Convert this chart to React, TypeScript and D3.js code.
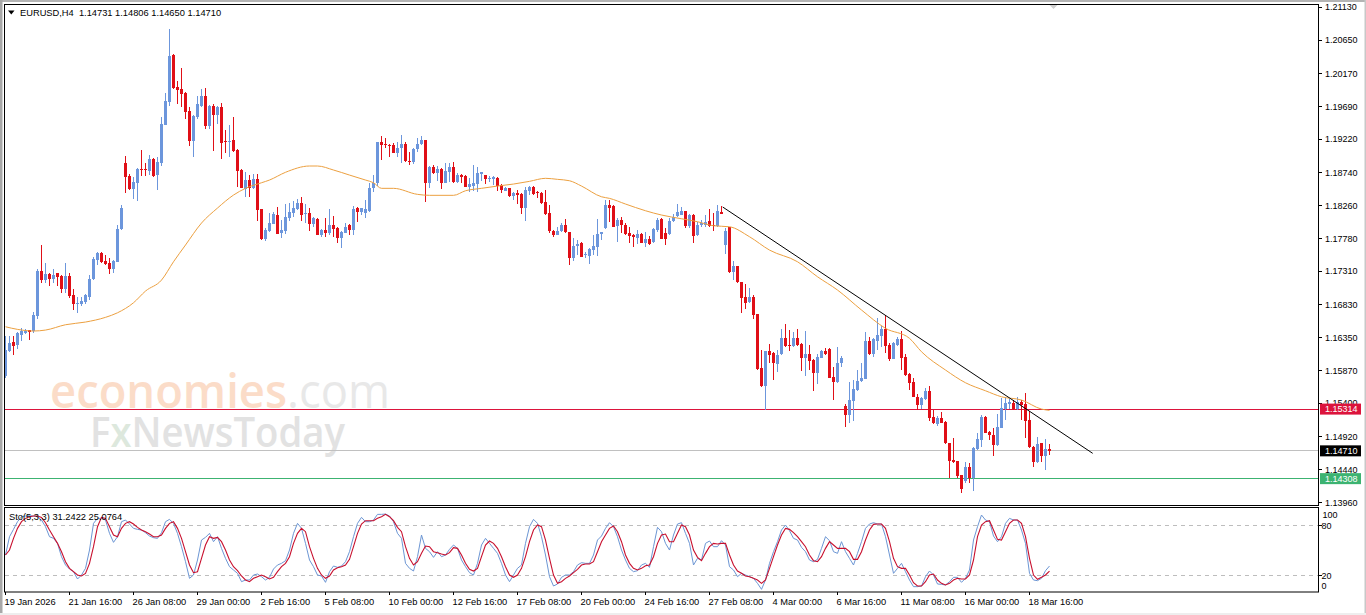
import React from "react";
import * as d3 from "d3";

const SYMBOL = "EURUSD,H4";
const QUOTE = "1.14731 1.14806 1.14650 1.14710";
const STO_TEXT = "Sto(5,3,3) 31.2422 25.0764";

// prices in points (1 point = 0.00001)
const opens = [
115792,116158,116284,116240,116389,116414,116457,116443,116664,117315,
117180,117267,117199,117282,117238,117050,117238,116964,116843,116829,
116867,116930,117191,117470,117575,117455,117422,117335,117445,117923,
118873,118685,118497,118588,118786,118786,118757,118931,118699,118869,
119427,119760,120440,119968,119943,119881,119625,119187,119534,119702,
119842,119408,119698,119567,119687,119191,119177,119206,119061,118772,
118493,118627,118516,118637,118203,117778,117889,117991,118121,117856,
117889,118073,118154,118208,118290,118131,118145,117991,118067,117836,
117904,117865,117976,117933,117788,117865,117980,117904,118218,118169,
118154,118174,118507,118588,119172,119148,119138,119138,119022,119086,
119148,118906,118892,119071,119143,119206,118588,118820,118733,118786,
118588,118747,118820,118598,118699,118685,118530,118540,118569,118714,
118699,118637,118642,118652,118555,118472,118516,118396,118443,118425,
118222,118472,118530,118449,118443,118309,118145,117894,117832,117889,
117976,117879,117503,117672,117720,117538,117528,117615,117662,117846,
117928,118270,118251,117962,118049,117976,117865,117832,117784,117850,
117720,117769,117730,117904,118059,117856,117842,118030,118106,118125,
118179,117962,118121,117831,117972,117976,118034,117972,117962,118169,
117687,117943,117301,117383,117147,116930,116858,116939,116689,115903,
115647,116153,116120,115965,116106,116346,116240,116230,116346,116255,
116057,116110,116023,115831,116057,116158,116182,115782,115701,115975,
115362,115228,115430,115589,115719,115753,116298,116110,116302,116370,
116467,116240,116038,116240,116327,116062,115821,115709,115492,115377,
115463,115579,115194,115097,115180,115126,114823,114577,114562,114355,
114277,114471,114312,114731,114866,115194,114986,114938,114794,115044,
115310,115387,115397,115310,115420,115387,115155,114769,114552,114818,
114634,114731];

const closes = [
116168,116274,116230,116414,116443,116443,116428,116674,117315,117180,
117267,117199,117253,117228,117046,117238,116949,116833,116852,116877,
116964,117191,117489,117571,117445,117412,117335,117455,117914,118222,
118675,118497,118603,118782,118772,118767,118931,118689,118883,119437,
119766,120425,119958,119929,119876,119615,119191,119553,119727,119842,
119408,119702,119567,119687,119167,119177,119196,119051,118757,118516,
118623,118516,118637,118193,117778,117904,118001,118135,117846,117904,
118088,118164,118222,118290,118121,118145,117991,118073,117836,117904,
117865,117976,117923,117788,117875,117952,117904,118208,118169,118222,
118203,118507,118588,119172,119138,119129,119129,119022,119086,119148,
118898,118892,119071,119148,119206,118588,118820,118733,118782,118579,
118757,118820,118598,118699,118666,118530,118569,118579,118724,118739,
118637,118652,118666,118545,118482,118507,118396,118439,118406,118222,
118482,118530,118425,118435,118290,118135,117889,117832,117894,117976,
117871,117503,117672,117701,117518,117557,117625,117672,117846,117875,
118270,118218,117951,118049,117972,117846,117821,117798,117846,117720,
117769,117701,117914,118049,117774,117774,118034,118096,118160,118179,
117962,118121,117821,117976,118010,118024,117962,117962,118183,118135,
117894,117296,117387,117147,116916,116843,116930,116674,115893,115647,
116153,116096,115975,116096,116346,116230,116226,116346,116236,116057,
116106,116013,115839,116071,116158,116106,115767,115705,115975,116048,
115228,115445,115599,115719,115763,116298,116106,116323,116385,116467,
116226,116033,116265,116323,116057,115806,115695,115492,115372,115473,
115579,115189,115107,115180,115116,114818,114566,114543,114345,114153,
114471,114312,114746,114876,115194,114971,114938,114794,115050,115325,
115397,115411,115310,115420,115368,115145,114760,114552,114808,114634,
114731,114710];

const highs = [
116370,116370,116370,116428,116486,116472,116457,116718,117340,117687,
117431,117286,117340,117282,117253,117431,117282,117046,116939,116935,
116978,117253,117518,117586,117590,117542,117499,117470,117976,118265,
118979,118714,118675,118801,119061,118869,118989,118945,118960,119543,
119890,120811,120450,120064,120243,119900,119687,119567,119842,119939,
119954,119712,119727,119702,119745,119350,119418,119534,119076,118782,
118743,118699,118714,118714,118212,117928,118145,118169,118241,118049,
118280,118290,118323,118348,118377,118280,118218,118096,118077,117914,
118073,118203,118106,117951,117885,118010,117991,118251,118241,118226,
118338,118584,118699,119181,119264,119230,119148,119158,119181,119278,
119181,119037,119086,119230,119264,119206,118830,118844,118830,118796,
118869,118869,118883,118724,118714,118699,118652,118844,118820,118747,
118699,118685,118685,118666,118569,118530,118516,118458,118482,118435,
118530,118540,118545,118472,118458,118482,118265,117904,117943,118001,
118063,117879,117784,117759,117735,117590,117639,117831,118059,117879,
118338,118338,118265,118073,118087,118001,117943,117846,117904,117865,
117879,117817,117928,118073,118073,117928,118073,118131,118280,118232,
118183,118135,118131,118024,118049,118121,118203,118154,118265,118251,
117928,117943,117460,117383,117147,117123,117060,116964,116689,116168,
116153,116255,116143,116168,116467,116544,116457,116433,116467,116265,
116447,116240,116033,116110,116168,116201,116201,115926,116216,116086,
115387,115709,115734,115879,115980,116424,116360,116337,116626,116515,
116674,116274,116289,116352,116443,116110,115831,115758,115531,115492,
115614,115647,115300,115213,115271,115145,114827,114890,114566,114364,
114552,114529,114760,114967,115228,115213,115000,115040,115242,115469,
115484,115455,115445,115484,115445,115550,115290,114779,114905,114827,
114885,114806];

const lows = [
115763,116139,116096,116182,116298,116399,116312,116414,116616,117142,
117137,117094,117137,117094,116997,116993,116920,116747,116703,116804,
116833,116891,117180,117398,117427,117398,117267,117286,117445,117904,
118443,118482,118352,118323,118685,118685,118699,118675,118482,118834,
119418,119698,119939,119727,119687,119505,119123,118955,119514,119679,
119361,119361,119051,119437,118935,119022,118964,119037,118522,118507,
118386,118386,118501,118038,117759,117749,117879,117991,117846,117792,
117846,118038,118096,118193,118038,118010,117894,117951,117832,117807,
117798,117832,117807,117720,117648,117856,117836,117836,118024,118121,
118082,118169,118458,118545,118916,119086,118955,119013,118964,118877,
118888,118844,118854,119037,119133,118313,118507,118714,118613,118497,
118579,118598,118588,118588,118588,118530,118458,118472,118458,118617,
118569,118603,118555,118472,118443,118464,118377,118338,118280,118131,
118034,118406,118406,118371,118280,118121,117865,117798,117832,117879,
117856,117397,117455,117542,117509,117494,117412,117542,117528,117759,
117914,118024,117943,117735,117856,117832,117711,117662,117701,117711,
117653,117687,117720,117879,117769,117687,117832,118020,118096,118116,
117928,117928,117720,117821,117951,117951,117943,117889,117951,118135,
117552,117286,117180,117137,116707,116757,116843,116612,115879,115628,
115300,115975,115734,115854,116096,116216,116158,116216,116226,115864,
115796,115879,115575,115676,116048,116096,115758,115445,115695,115926,
115058,115116,115145,115579,115709,115744,116096,116062,116168,116216,
116120,116013,116033,116230,115879,115796,115589,115484,115300,115310,
115445,115145,115097,115068,115107,114808,114312,114529,114312,114095,
114248,114240,114132,114721,114769,114963,114866,114634,114779,115035,
115155,115310,115300,115300,115155,114890,114750,114480,114538,114552,
114432,114650];

// 50-bar moving average, read at these bars
const maBars = [0,3,7,10,15,20,25,28,32,35,39,42,45,49,53,57,60,64,66,70,76,78,82,86,90,92,94,97,103,106,112,115,119,123,127,131,135,138,141,144,149,151,155,160,164,169,173,177,181,186,191,198,203,208,214,220,226,229,235,240,245,249,254,259,261];
const maValues = [116505,116467,116443,116457,116534,116573,116641,116707,116852,117021,117180,117445,117687,118005,118222,118410,118507,118588,118627,118739,118830,118830,118772,118699,118627,118588,118507,118507,118420,118406,118406,118472,118507,118540,118569,118608,118652,118637,118617,118540,118385,118362,118280,118183,118121,118067,118024,117966,117951,117807,117614,117445,117228,117036,116747,116482,116337,116143,115879,115695,115579,115492,115445,115314,115296];

// stochastic %K and %D per bar
const stoK = [
44.4,66.4,75.2,84.4,90.4,91.2,91.6,91.2,90.4,86.4,
78.4,66.4,64.4,58.4,42.4,32.4,27.6,24.4,15.6,20.4,
28.4,50.4,82.4,88.4,88.4,86.4,70.4,59.6,66.4,84.4,
86.4,81.6,76.4,75.2,74.4,71.2,67.2,65.2,64.4,71.2,
84.4,87.2,82.4,70.4,54.4,36.4,16.4,20.4,38.4,62.4,
65.6,70.4,60.4,66.4,52.4,40.4,30.4,26.4,22.4,12.4,
14.4,14.4,20.4,21.6,18.4,14.4,17.6,27.6,32.4,34.4,
37.6,50.4,70.4,82.4,76.4,58.4,38.4,30.4,20.4,19.2,
11.6,24.4,31.2,29.6,31.2,36.4,48.4,66.4,82.4,89.6,
84.4,84.4,86.4,93.2,93.2,93.6,91.2,84.4,70.4,
64.4,34.4,28.4,25.2,42.4,68.4,52.4,48.4,41.6,48.4,
42.4,44.4,51.2,56.4,52.4,38.4,30.4,23.2,20.4,34.4,
56.4,64.4,58.4,52.4,46.4,34.4,20.4,12.4,20.4,28.4,
32.4,58.4,78.4,87.2,82.4,66.4,44.4,18.4,7.2,9.6,
17.6,20.4,20.4,24.4,32.4,35.2,34.4,34.4,44.4,62.4,
67.2,76.4,83.2,78.4,66.4,50.4,38.4,28.4,24.4,25.6,
32.4,34.4,29.6,54.4,77.6,72.4,58.4,50.4,68.4,81.6,
83.2,70.4,58.4,32.4,40.4,38.4,58.4,61.2,54.4,54.4,
61.6,56.4,30.4,26.4,18.4,22.4,20.4,18.4,16.4,10.4,
3.2,14.4,34.4,48.4,60.4,74.4,80.4,73.6,64.4,62.4,
53.6,48.4,38.4,36.4,39.2,52.4,66.4,61.6,48.4,46.4,
60.4,48.4,40.4,32.4,46.4,60.4,76.4,81.6,83.2,81.6,
81.6,66.4,44.4,22.4,28.4,34.4,24.4,14.4,6.4,6.4,
7.2,18.4,25.2,20.4,9.6,9.2,8.4,12.4,17.6,17.6,
11.6,16.4,26.4,62.4,78.4,92.4,86.4,84.4,67.2,60.4,
66.4,82.4,88.4,86.4,86.4,74.4,58.4,22.4,14.4,13.6,
16.4,25.6,31.2];

const stoD = [
44.4,50.4,64.4,76.4,84.4,88.4,90.4,91.2,91.2,89.6,
83.2,74.4,66.4,58.4,48.4,36.4,28.4,24.4,20.4,19.2,
22.4,34.4,54.4,78.4,89.6,88.4,78.4,68.4,66.4,76.4,
82.4,84.4,81.6,77.6,74.4,72.4,69.6,66.4,66.4,68.4,
76.4,82.4,84.4,76.4,64.4,48.4,32.4,23.2,24.4,40.4,
56.4,66.4,64.4,65.6,60.4,50.4,38.4,30.4,25.6,19.2,
14.4,12.4,16.4,18.4,20.4,18.4,15.6,17.6,24.4,30.4,
34.4,42.4,58.4,70.4,76.4,72.4,54.4,40.4,28.4,20.4,
16.4,19.2,26.4,29.2,30.4,32.4,39.2,54.4,70.4,81.6,
85.6,85.6,85.6,88.4,90.4,93.2,90.4,85.6,77.6,
72.4,54.4,40.4,32.4,36.4,46.4,55.2,54.4,48.4,47.2,
45.6,44.4,47.2,53.2,52.4,44.4,34.4,27.2,25.2,28.4,
42.4,56.4,61.2,58.4,52.4,42.4,30.4,20.4,17.6,20.4,
28.4,42.4,60.4,74.4,80.4,78.4,62.4,40.4,20.4,10.4,
12.4,16.4,19.2,23.2,27.2,32.4,33.6,33.6,36.4,48.4,
60.4,68.4,76.4,79.2,72.4,60.4,44.4,34.4,28.4,26.4,
28.4,31.6,32.4,42.4,58.4,68.4,69.6,60.4,60.4,70.4,
80.4,78.4,68.4,50.4,41.6,37.6,46.4,54.4,58.4,57.6,
58.4,58.4,44.4,32.4,25.2,22.4,19.2,18.4,16.4,14.4,
10.4,14.4,28.4,42.4,56.4,68.4,76.4,75.2,71.2,66.4,
60.4,54.4,44.4,37.6,36.4,42.4,52.4,60.4,56.4,52.4,
52.4,52.4,48.4,39.2,39.2,48.4,62.4,74.4,81.2,81.6,
81.6,76.4,60.4,40.4,30.4,28.4,28.4,20.4,11.2,7.2,
7.2,12.4,20.4,21.6,14.4,10.4,8.4,10.4,14.4,16.4,
15.6,15.6,20.4,38.4,66.4,80.4,84.4,85.6,74.4,63.2,
62.4,72.4,82.4,86.4,86.4,82.4,66.4,40.4,20.4,15.2,
17.6,20.4,25.1];

const priceTicks = [1.2113,1.2065,1.2017,1.1969,1.1922,1.1874,1.1826,1.1778,1.1731,1.1683,1.1635,1.1587,1.154,1.1492,1.1444,1.1396];
const timeLabels = ["19 Jan 2026","21 Jan 16:00","26 Jan 08:00","29 Jan 00:00","2 Feb 16:00","5 Feb 08:00","10 Feb 00:00","12 Feb 16:00","17 Feb 08:00","20 Feb 00:00","24 Feb 16:00","27 Feb 08:00","4 Mar 00:00","6 Mar 16:00","11 Mar 08:00","16 Mar 00:00","18 Mar 16:00"];
const TIME_STEP = 16;

const resistance = 1.15314;
const support = 1.14308;
const lastPrice = 1.1471;
const trendBars = [179.3, 271.8];
const trendPrices = [1.18237, 1.14674];
const stoLevels = [80, 20];

const FONT = "'Liberation Sans', Arial, sans-serif";
const BULL = "#6C96DC";
const BEAR = "#E00F17";
const P = 1e-5;

const L = 4.5, R = 1318.5;
const x = d3.scaleLinear().domain([0, 1]).range([5.5, 9.5]);
const y = d3.scaleLinear().domain([1.2113, 1.1396]).range([7, 502.7]);
const ys = d3.scaleLinear().domain([0, 100]).range([592, 508.7]);

const maLine = d3.line<number>().x((_, i) => x(maBars[i])).y((d) => y(d * P)).curve(d3.curveMonotoneX);
const stoLine = d3.line<number>().x((_, i) => x(i)).y((d) => ys(d));

function PriceBox({ value, fill }: { value: number; fill: string }) {
  const c = y(value);
  return (
    <g>
      <rect x={1320} y={c - 5.5} width={41} height={11} fill={fill} />
      <text x={1325} y={c + 3.3} fontSize={9} fill="#fff" fontFamily={FONT}>{value.toFixed(5)}</text>
    </g>
  );
}

export default function App() {
  return (
    <svg width={1366} height={615} viewBox="0 0 1366 615"
      style={{ position: "absolute", left: 0, top: 0, display: "block", background: "#fff" }}>
      <rect x={0} y={0} width={1366} height={2} fill="#b4b4b4" />
      <rect x={0} y={0} width={2.5} height={615} fill="#a8a8a8" />
      <rect x={1364.5} y={0} width={1.5} height={615} fill="#c8c8c8" />
      <rect x={0} y={613} width={1366} height={2} fill="#eeeeee" />

      {/* watermark */}
      <text x={50} y={408} fontSize={47} fontFamily="'Open Sans', sans-serif" textLength={340} lengthAdjust="spacingAndGlyphs">
        <tspan fill="#fbdcc8" fontWeight={600}>economies</tspan>
        <tspan fill="#e8e8e8" fontWeight={400}>.com</tspan>
      </text>
      <text x={90} y={447} fontSize={41} fontFamily="'Open Sans', sans-serif" fontWeight={600} textLength={255} lengthAdjust="spacingAndGlyphs">
        <tspan fill="#e2e2e2">F</tspan>
        <tspan fill="#dde8dd">x</tspan>
        <tspan fill="#e2e2e2">NewsToday</tspan>
      </text>

      {/* levels */}
      <g shapeRendering="crispEdges">
        <line x1={L} x2={R} y1={y(lastPrice)} y2={y(lastPrice)} stroke="#c0c0c0" strokeWidth={1} />
        <line x1={L} x2={R} y1={y(resistance)} y2={y(resistance)} stroke="#DC143C" strokeWidth={1} />
        <line x1={L} x2={R} y1={y(support)} y2={y(support)} stroke="#3CB371" strokeWidth={1} />
      </g>

      {/* candles */}
      <g shapeRendering="crispEdges">
        {opens.map((o, i) => {
          const c = closes[i];
          const color = c >= o ? BULL : BEAR;
          const top = y(Math.max(o, c) * P);
          const bot = y(Math.min(o, c) * P);
          const cx = x(i);
          return (
            <g key={i} fill={color}>
              <rect x={cx - 0.5} width={1} y={y(highs[i] * P)} height={Math.max(1, y(lows[i] * P) - y(highs[i] * P))} />
              <rect x={cx - 1.5} width={3} y={top} height={Math.max(1, bot - top)} />
            </g>
          );
        })}
      </g>

      {/* moving average + trend line */}
      <path d={maLine(maValues) ?? ""} fill="none" stroke="#ECA040" strokeWidth={1} />
      <line x1={x(trendBars[0])} y1={y(trendPrices[0])} x2={x(trendBars[1])} y2={y(trendPrices[1])} stroke="#000" strokeWidth={1} />

      {/* header */}
      <path d="M8 10.5 L14.5 10.5 L11.25 14.5 Z" fill="#000" />
      <text x={20} y={15.5} fontSize={9.3} fontFamily={FONT} fill="#000" xmlSpace="preserve">{SYMBOL + "  " + QUOTE}</text>
      <path d="M1049 4.5 L1058 4.5 L1053.5 9 Z" fill="#d0d0d0" />

      {/* sub window */}
      {stoLevels.map((v) => (
        <line key={v} x1={L} x2={R} y1={ys(v)} y2={ys(v)} stroke="#bdbdbd" strokeDasharray="4 4" shapeRendering="crispEdges" />
      ))}
      <path d={stoLine(stoK) ?? ""} fill="none" stroke="#6C96D4" strokeWidth={1} />
      <path d={stoLine(stoD) ?? ""} fill="none" stroke="#C8102E" strokeWidth={1.1} />
      <text x={9} y={520} fontSize={9.3} fontFamily={FONT} fill="#000">{STO_TEXT}</text>

      {/* frames */}
      <rect x={L} y={4.5} width={R - L} height={501} fill="none" stroke="#000" />
      <rect x={L} y={507.5} width={R - L} height={84.5} fill="none" stroke="#000" />

      {/* price axis */}
      {priceTicks.map((t) => (
        <g key={t}>
          <line x1={R} x2={R + 3} y1={y(t)} y2={y(t)} stroke="#000" shapeRendering="crispEdges" />
          <text x={1325} y={y(t) + 3.3} fontSize={9} fontFamily={FONT} fill="#000">{t.toFixed(5)}</text>
        </g>
      ))}
      <PriceBox value={resistance} fill="#DC143C" />
      <PriceBox value={lastPrice} fill="#000000" />
      <PriceBox value={support} fill="#3CB371" />

      {/* sub-window axis */}
      {stoLevels.map((v) => (
        <line key={v} x1={R} x2={R + 3} y1={ys(v)} y2={ys(v)} stroke="#000" shapeRendering="crispEdges" />
      ))}
      <text x={1322.5} y={517.5} fontSize={9} fontFamily={FONT}>100</text>
      <text x={1321.5} y={528.5} fontSize={9} fontFamily={FONT}>80</text>
      <text x={1321.5} y={578.5} fontSize={9} fontFamily={FONT}>20</text>
      <text x={1321.5} y={589} fontSize={9} fontFamily={FONT}>0</text>

      {/* time axis */}
      {timeLabels.map((t, k) => {
        const tx = x(k * TIME_STEP);
        return (
          <g key={t}>
            <line x1={tx} x2={tx} y1={592} y2={595} stroke="#000" />
            <text x={tx - 1} y={605} fontSize={9.3} fontFamily={FONT} fill="#000">{t}</text>
          </g>
        );
      })}
    </svg>
  );
}
